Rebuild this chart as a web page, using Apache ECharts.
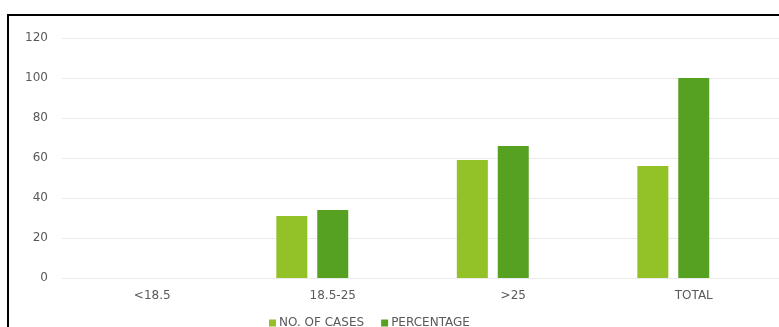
<!DOCTYPE html>
<html>
<head>
<meta charset="utf-8">
<script src="https://cdn.jsdelivr.net/npm/echarts@6/dist/echarts.min.js"></script>
<style>
html,body{margin:0;padding:0;background:#fff;overflow:hidden;}
#chart{width:779px;height:327px;}
</style>
</head>
<body>
<div id="chart"></div>
<script>
const categories = ['<18.5', '18.5-25', '>25', 'TOTAL'];
const noOfCases = [0, 31, 59, 56];
const percentage = [0, 34, 66, 100];
const emptySlot = [null, null, null, null];
const yTicks = { min: 0, max: 120, interval: 20 };

const chart = echarts.init(document.getElementById('chart'), null, { renderer: 'canvas' });
const font = 'DejaVu Sans';
const textColor = '#595959';
chart.setOption({
  animation: false,
  backgroundColor: '#ffffff',
  graphic: [{
    type: 'rect',
    shape: { x: 8, y: 15, width: 820, height: 400 },
    style: { fill: 'none', stroke: '#000', lineWidth: 2 },
    z: 100
  }],
  grid: { left: 62, width: 722, top: 38, bottom: 49, containLabel: false, outerBoundsMode: 'none' },
  legend: {
    data: ['NO. OF CASES', 'PERCENTAGE'],
    left: 264, top: 312,
    itemWidth: 7, itemHeight: 7, itemGap: 17,
    icon: 'rect',
    textStyle: { fontFamily: font, fontSize: 12, color: textColor, padding: [0, 0, 0, -2] }
  },
  xAxis: {
    type: 'category',
    data: categories,
    axisLine: { show: false },
    axisTick: { show: false },
    axisLabel: { fontFamily: font, fontSize: 12, color: textColor, margin: 12 }
  },
  yAxis: {
    type: 'value',
    min: yTicks.min, max: yTicks.max, interval: yTicks.interval,
    axisLine: { show: false },
    axisTick: { show: false },
    axisLabel: { fontFamily: font, fontSize: 12, color: textColor, margin: 14 },
    splitLine: { lineStyle: { color: '#ebebeb', width: 1 } }
  },
  series: [
    {
      name: 'NO. OF CASES', type: 'bar', data: noOfCases,
      barWidth: 31, barGap: '32%',
      itemStyle: { color: '#92c128' }
    },
    {
      name: 'PERCENTAGE', type: 'bar', data: percentage,
      barWidth: 31, barGap: '32%',
      itemStyle: { color: '#56a022' }
    },
    {
      name: 'placeholder', type: 'bar', data: emptySlot,
      barWidth: 31, barGap: '32%',
      itemStyle: { color: 'transparent' }
    }
  ]
});
</script>
</body>
</html>
